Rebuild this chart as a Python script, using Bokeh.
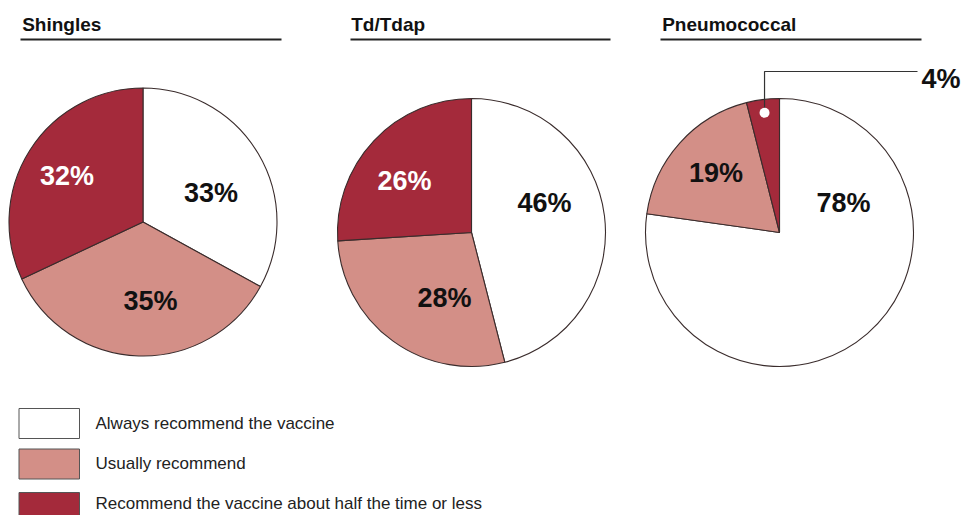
import math
from bokeh.plotting import figure
from bokeh.models import Range1d, ColumnDataSource
from bokeh.core.properties import value
from bokeh.embed import file_html
from bokeh.resources import INLINE

# ---- data ----
groups = ["Shingles", "Td/Tdap", "Pneumococcal"]
categories = ["Always recommend the vaccine", "Usually recommend",
              "Recommend the vaccine about half the time or less"]
shingles = [33, 35, 32]
tdap = [46, 28, 26]
pneumo = [78, 19, 4]
series = [shingles, tdap, pneumo]

# ---- style / layout ----
colors = ["#ffffff", "#d38f87", "#a42a3b"]
label_colors = ["#111111", "#111111", "#ffffff"]
edge = "#3a2c2c"
W, H = 972, 515
IMG_H = 515

def Y(y_img):
    return IMG_H - y_img

centers = [(142.5, Y(221.5)), (471, Y(232)), (779, Y(232))]
radius = 134
title_x = [21.7, 350.7, 661.7]
underline = [(20, 281), (350, 610), (660, 921)]
# label offsets (dx, dy) relative to pie centre, px
label_offsets = [
    [(68, 29), (7.5, -79), (-76, 46)],
    [(73, 30), (-27, -65), (-67, 52)],
    [(64, 30), (-63.5, 60), None],
]

p = figure(width=W, height=H, output_backend="svg", toolbar_location=None,
           x_range=Range1d(0, W), y_range=Range1d(0, H),
           min_border=0, outline_line_color=None, background_fill_color="white",
           border_fill_color="white")
p.axis.visible = False
p.grid.visible = False

FONT = value("Liberation Sans")

for gi, (g, vals) in enumerate(zip(groups, series)):
    cx, cy = centers[gi]
    tot = float(sum(vals))
    starts, ends = [], []
    cum = 0.0
    for v in vals:
        a0 = cum / tot * 2 * math.pi
        cum += v
        a1 = cum / tot * 2 * math.pi
        starts.append(math.pi / 2 - a1)
        ends.append(math.pi / 2 - a0)
    src = ColumnDataSource(dict(x=[cx] * 3, y=[cy] * 3, s=starts, e=ends, c=colors))
    p.wedge(x="x", y="y", radius=radius, start_angle="s", end_angle="e",
            fill_color="c", line_color=edge, line_width=1.1, source=src)

    # title + underline
    p.text(x=[title_x[gi]], y=[Y(23.5)], text=[g], text_font=FONT, text_font_style="bold",
           text_font_size="19px", text_align="left", text_baseline="middle",
           text_color="#111111")
    p.segment(x0=[underline[gi][0]], y0=[Y(39)], x1=[underline[gi][1]], y1=[Y(39)],
              line_color="#222222", line_width=2)

    # labels
    for k, v in enumerate(vals):
        off = label_offsets[gi][k]
        if off is None:
            continue
        p.text(x=[cx + off[0]], y=[cy + off[1]], text=[f"{v}%"], text_font=FONT,
               text_font_style="bold", text_font_size="27px", text_align="center",
               text_baseline="middle", text_color=label_colors[k])

# leader for the small pneumococcal slice
cx, cy = centers[2]
tot = float(sum(pneumo))
mid = (sum(pneumo[:2]) + pneumo[2] / 2) / tot * 2 * math.pi
dx_ = cx + 0.9 * radius * math.sin(mid)
dy_ = cy + 0.9 * radius * math.cos(mid)
p.line(x=[dx_, dx_, 917], y=[dy_, Y(71), Y(71)], line_color="#333333", line_width=1.2)
p.scatter(x=[dx_], y=[dy_], size=10, fill_color="white", line_color=None)
p.text(x=[921], y=[Y(78)], text=[f"{pneumo[2]}%"], text_font=FONT, text_font_style="bold",
       text_font_size="27px", text_align="left", text_baseline="middle", text_color="#111111")

# legend
box_tops = [408, 448.5, 492]
text_y = [422.5, 463, 503]
for i, cat in enumerate(categories):
    p.quad(left=[18.5], right=[79], top=[Y(box_tops[i])], bottom=[Y(box_tops[i] + 30)],
           fill_color=colors[i], line_color="#555555", line_width=1)
    p.text(x=[95], y=[Y(text_y[i])], text=[cat], text_font=FONT, text_font_size="17px",
           text_align="left", text_baseline="middle", text_color="#222222")

open("out.html", "w").write(file_html(p, INLINE))
